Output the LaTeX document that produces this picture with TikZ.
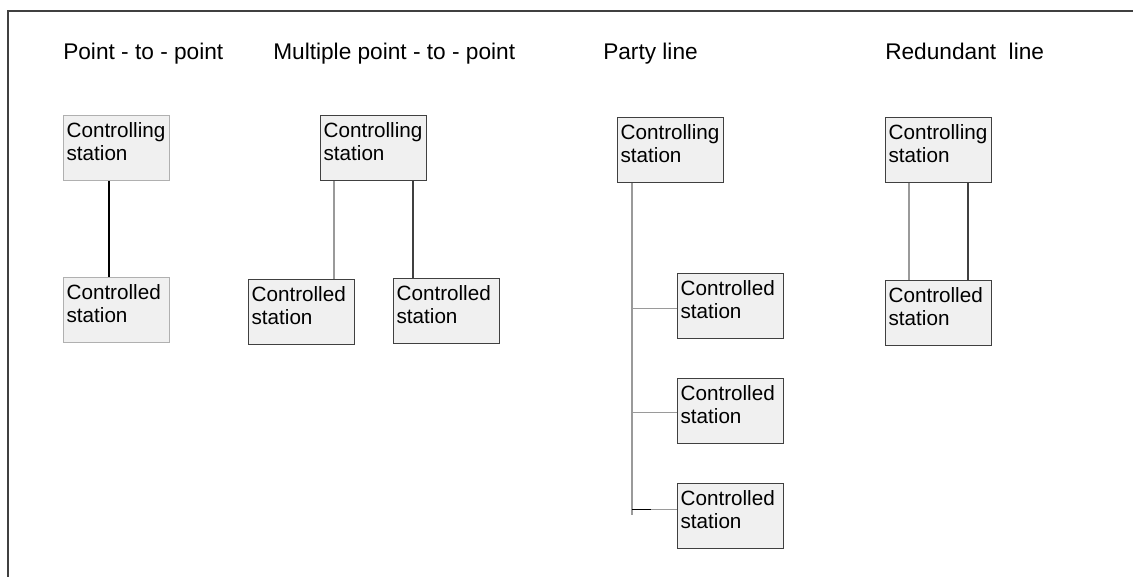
\documentclass[tikz,border=0pt]{standalone}
\usepackage{fontspec}
\setmainfont{Liberation Sans}
\usetikzlibrary{calc}

% Station box text: two lines set at the top left of a fixed-size box
\newcommand{\stationtext}[1]{%
  \parbox[c][48.75pt][t]{79.5pt}{%
    \fontsize{15.5}{17.25}\selectfont\raggedright\leftskip=2.25pt
    \rule{0pt}{16.5pt}#1}}

\definecolor{boxfill}{HTML}{F0F0F0}
\definecolor{lightedge}{HTML}{B0B0B0}
\definecolor{darkedge}{HTML}{404040}
\definecolor{greyline}{HTML}{9A9A9A}
\definecolor{frameline}{HTML}{404040}

\tikzset{
  station/.style={draw=#1, fill=boxfill, line width=0.9pt, inner sep=0pt,
    anchor=north west, minimum width=79.5pt, minimum height=48.75pt},
  station/.default=darkedge,
  title/.style={anchor=base west, inner sep=0pt,
    font=\fontsize{17}{20}\selectfont},
  link/.style={draw=#1, line width=0.9pt},
  link/.default=black
}

\begin{document}
\begin{tikzpicture}[x=0.75pt, y=-0.75pt]
  \useasboundingbox (0,0) rectangle (1133,577);

  % open frame: top and left edges
  \coordinate (frameTR) at (1133,11);
  \coordinate (frameTL) at (8,11);
  \coordinate (frameBL) at (8,577);
  \draw[frameline, line width=1.6pt] (frameTR) -- (frameTL) -- (frameBL);

  % titles
  \node[title] (t1) at (63,60)  {Point - to - point};
  \node[title] (t2) at (273,60) {Multiple point - to - point};
  \node[title] (t3) at (603,60) {Party line};
  \node[title] (t4) at (885,60) {Redundant\ \ line};

  % point-to-point
  \node[station=lightedge] (A1) at (63,115) {\stationtext{Controlling\\station}};
  \node[station=lightedge] (A2) at (63,277) {\stationtext{Controlled\\station}};
  \draw[link] ($(A1.south west)+(46,0)$) coordinate (a) -- (a |- A2.north);

  % multiple point-to-point
  \node[station] (B1) at (320,115) {\stationtext{Controlling\\station}};
  \node[station] (B2) at (248,279) {\stationtext{Controlled\\station}};
  \node[station] (B3) at (393,278) {\stationtext{Controlled\\station}};
  \draw[link=greyline] ($(B1.south west)+(14,0)$) coordinate (b1) -- (b1 |- B2.north);
  \draw[link=darkedge] ($(B1.south west)+(93,0)$) coordinate (b2) -- (b2 |- B3.north);

  % party line
  \node[station] (C1) at (617,117) {\stationtext{Controlling\\station}};
  \node[station] (C2) at (677,273) {\stationtext{Controlled\\station}};
  \node[station] (C3) at (677,378) {\stationtext{Controlled\\station}};
  \node[station] (C4) at (677,483) {\stationtext{Controlled\\station}};
  \coordinate (trunkEnd) at (632,515);
  \draw[link=greyline] ($(C1.south west)+(15,0)$) -- (trunkEnd);
  \coordinate (c2b) at ($(C2.west)+(0,2.5)$);
  \coordinate (c3b) at ($(C3.west)+(0,1.5)$);
  \coordinate (c4b) at ($(C4.west)+(0,-6.5)$);
  \draw[link=greyline] (c2b -| trunkEnd) -- (c2b);
  \draw[link=greyline] (c3b -| trunkEnd) -- (c3b);
  \draw[link=greyline] ($(c4b -| trunkEnd)+(19,0)$) -- (c4b);
  \draw[link] (c4b -| trunkEnd) -- ++(19,0);

  % redundant line
  \node[station] (D1) at (885,117) {\stationtext{Controlling\\station}};
  \node[station] (D2) at (885,280) {\stationtext{Controlled\\station}};
  \draw[link=greyline] ($(D1.south west)+(24,0)$) coordinate (d1) -- (d1 |- D2.north);
  \draw[link=darkedge] ($(D1.south west)+(83,0)$) coordinate (d2) -- (d2 |- D2.north);
\end{tikzpicture}
\end{document}
